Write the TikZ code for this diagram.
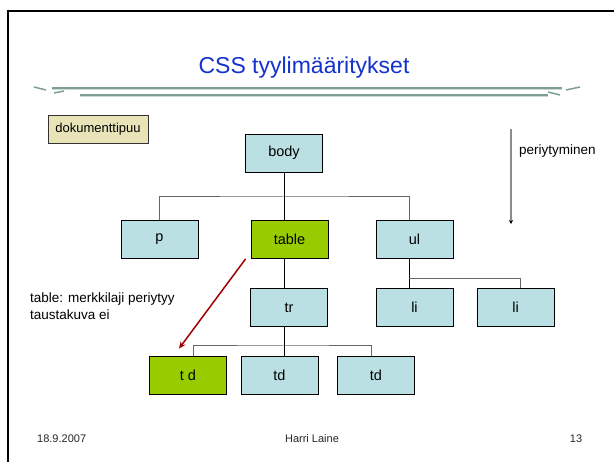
\documentclass[tikz,border=0pt]{standalone}
\usepackage{fontspec}
\setmainfont{Liberation Sans}
\usetikzlibrary{arrows.meta}
\definecolor{boxblue}{HTML}{BBE0E3}
\definecolor{boxgreen}{HTML}{99CC00}
\definecolor{boxbeige}{HTML}{E8E4B8}
\definecolor{titleblue}{HTML}{1432CC}
\definecolor{arrowred}{HTML}{A00000}
\definecolor{rulegreen}{HTML}{7E9E94}
\tikzset{
  treebox/.style={draw=black, line width=0.8pt, fill=boxblue, minimum width=77pt, minimum height=38pt, inner sep=0pt, font=\fontsize{14.5}{16}\selectfont},
  greenbox/.style={treebox, fill=boxgreen},
  docbox/.style={draw=black!80, line width=0.8pt, fill=boxbeige, minimum width=100pt, minimum height=28pt, inner sep=0pt, font=\fontsize{13}{15}\selectfont},
  vconn/.style={draw=black, line width=0.8pt},
  hconn/.style={draw=black!60, line width=1pt},
  foot/.style={font=\fontsize{11}{13}\selectfont, text=black!85},
}
\begin{document}
\begin{tikzpicture}[x=1pt,y=-1pt]
\useasboundingbox (0,0) rectangle (614,462);
% slide frame
\draw[line width=2pt] (8,462) -- (8,11.5) -- (614,11.5);
% title
\node[text=titleblue, font=\fontsize{23}{27}\selectfont] (title) at (304,68) {CSS tyylimääritykset};
% decorative rules
\draw[rulegreen!40, line width=1.5pt] (52,89.5) -- (562,89.5);
\draw[rulegreen, line width=1.2pt] (52,88) -- (562,88);
\draw[rulegreen!40, line width=1.5pt] (80,96.5) -- (548,96.5);
\draw[rulegreen, line width=1.2pt] (80,95) -- (548,95);
\draw[rulegreen, line width=1.5pt] (34,87) -- (46,90);
\draw[rulegreen, line width=1.5pt] (54,93) -- (64,91);
\draw[rulegreen, line width=1.5pt] (566,90) -- (580,87);
\draw[rulegreen, line width=1.5pt] (548,92) -- (560,95);
% boxes
\node[docbox] (doc) at (98,129.5) {dokumenttipuu};
\node[treebox] (body) at (284,153) {body};
\node[treebox] (p) at (159.5,239.5) {p};
\node[greenbox] (table) at (289.5,239.5) {table};
\node[treebox] (ul) at (414.5,239.5) {ul};
\node[treebox] (tr) at (289,307.5) {tr};
\node[treebox] (li1) at (414.5,307.5) {li};
\node[treebox] (li2) at (515.5,307.5) {li};
\node[greenbox] (td1) at (188,375) {t d};
\node[treebox] (td2) at (279.5,375) {td};
\node[treebox] (td3) at (376,375) {td};
% connectors
\coordinate (bus) at (284,197);
\coordinate (ulbus) at (409,279);
\coordinate (trbus) at (284,346);
\draw[vconn] (body.south) -- (table.north -| body.south);
\draw[hconn] (p.north) |- (bus) -| ([xshift=-5.5pt]ul.north);
\draw[vconn] ([xshift=-5.5pt]ul.north) -- (ul.north -| ulbus);
\draw[vconn] ([xshift=-5.5pt]ul.south) -- (li1.north -| ulbus);
\draw[hconn] (ulbus) -| ([xshift=4.5pt]li2.north);
\draw[vconn] (table.south -| body.south) -- ([xshift=-5pt]tr.north);
\draw[vconn] ([xshift=-5pt]tr.south) -- ([xshift=4.5pt]td2.north);
\draw[hconn] ([xshift=5pt]td1.north) |- (trbus) -| ([xshift=-5pt]td3.north);
% red arrow
\draw[arrowred, line width=1.5pt, -{Stealth[length=7pt,width=6pt]}] ([xshift=-5pt]table.south west) -- ([shift={(-9pt,7pt)}]td1.north);
\node[anchor=north west, align=left, font=\fontsize{13.5}{16.5}\selectfont, inner sep=0pt] (note) at (30,293) {table: merkkilaji periytyy\\taustakuva ei};
% inheritance arrow
\coordinate (pa) at (511,129);
\coordinate (pb) at (511,224);
\draw[black!45, line width=1.2pt, -{Stealth[black,length=4pt,width=4pt]}] (pa) -- (pb);
\node[anchor=west, font=\fontsize{13.5}{15}\selectfont, inner sep=0pt] (inh) at (519,151) {periytyminen};
% footer
\node[foot, anchor=west, inner sep=0pt] (date) at (37,439) {18.9.2007};
\node[foot, inner sep=0pt] (author) at (312,439) {Harri Laine};
\node[foot, inner sep=0pt] (page) at (576,439) {13};
\end{tikzpicture}
\end{document}
